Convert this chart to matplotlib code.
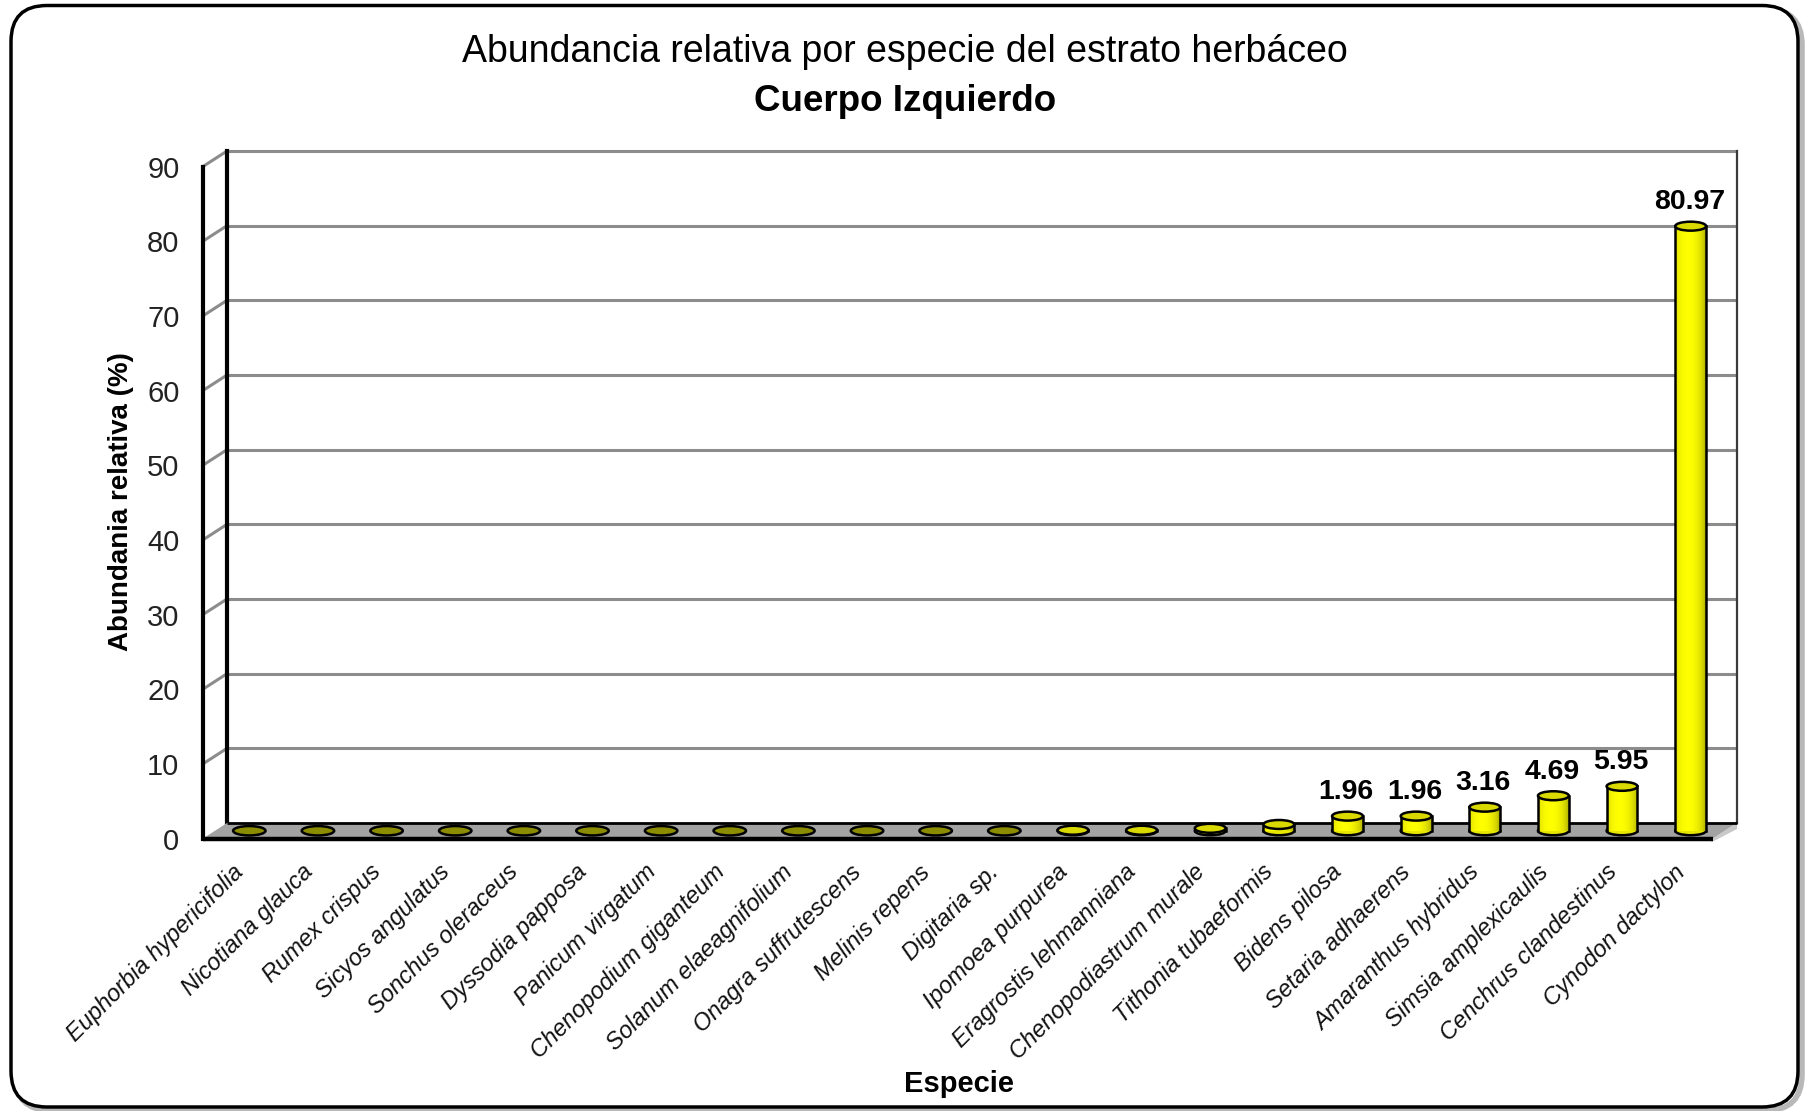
import matplotlib
matplotlib.use("Agg")
import matplotlib.pyplot as plt
import numpy as np
from matplotlib.patches import Rectangle, Ellipse, Polygon, FancyBboxPatch
from matplotlib.lines import Line2D
from matplotlib.transforms import ScaledTranslation, IdentityTransform

# ---- data -------------------------------------------------------------
species = [
    "Euphorbia hypericifolia", "Nicotiana glauca", "Rumex crispus",
    "Sicyos angulatus", "Sonchus oleraceus", "Dyssodia papposa",
    "Panicum virgatum", "Chenopodium giganteum", "Solanum elaeagnifolium",
    "Onagra suffrutescens", "Melinis repens", "Digitaria sp.",
    "Ipomoea purpurea", "Eragrostis lehmanniana", "Chenopodiastrum murale",
    "Tithonia tubaeformis", "Bidens pilosa", "Setaria adhaerens",
    "Amaranthus hybridus", "Simsia amplexicaulis", "Cenchrus clandestinus",
    "Cynodon dactylon",
]
abundance = [0, 0, 0, 0, 0, 0, 0, 0, 0, 0, 0, 0,
             0.07, 0.07, 0.33, 0.84, 1.96, 1.96, 3.16, 4.69, 5.95, 80.97]
show_value = [False] * 16 + [True] * 6
y_ticks = list(range(0, 91, 10))

title = "Abundancia relativa por especie del estrato herbáceo"
subtitle = "Cuerpo Izquierdo"
y_label = "Abundania relativa (%)"
x_label = "Especie"

NARROW = ["Liberation Sans Narrow", "Arial Narrow", "Liberation Sans", "DejaVu Sans"]

# ---- figure -------------------------------------------------------------
DPI = 100
W, H = 1807, 1111
fig = plt.figure(figsize=(W / DPI, H / DPI), dpi=DPI)
fig.patch.set_facecolor("white")

# rounded chart-area frame with a soft shadow
shadow = FancyBboxPatch((15, 0.5), 1787, 1101.5,
                        boxstyle="round,pad=0,rounding_size=36",
                        transform=IdentityTransform(), fc="none",
                        ec="#8a8a8a", lw=4, alpha=0.6, zorder=0)
frame = FancyBboxPatch((11, 4), 1787, 1101.5,
                       boxstyle="round,pad=0,rounding_size=36",
                       transform=IdentityTransform(), fc="white",
                       ec="black", lw=2.5, zorder=0.5)
fig.add_artist(shadow)
fig.add_artist(frame)

# the axes rectangle is the front face of the 3-D box
ax = fig.add_axes([203 / W, 272.5 / H, 1510 / W, 672 / H])
ax.set_zorder(1)
ax.patch.set_visible(False)
n = len(species)
ax.set_xlim(-0.5, n - 0.5)
ax.set_ylim(0, 90)

# depth of the box (back wall) and the mid-depth plane where the cylinders stand
depth = ScaledTranslation(24 / DPI, 15.5 / DPI, fig.dpi_scale_trans)
half_depth = ScaledTranslation(12 / DPI, 7.75 / DPI, fig.dpi_scale_trans)
back = ax.transData + depth
mid = ax.transData + half_depth

x0, x1 = -0.5, n - 0.5

# back wall with gridlines
ax.add_patch(Rectangle((x0, 0), x1 - x0, 90, transform=back, fc="white",
                       ec="none", zorder=1, clip_on=False))
for yv in y_ticks[1:]:
    ax.plot([x0, x1], [yv, yv], transform=back, color="#8c8c8c", lw=2.2,
            zorder=2, clip_on=False, solid_capstyle="butt")
ax.plot([x1, x1], [0, 90], transform=back, color="#3a3a3a", lw=1.6,
        zorder=2, clip_on=False)
ax.plot([x0, x0], [0, 90], transform=back, color="black", lw=3,
        zorder=3, clip_on=False)

# side wall gridlines and floor, built from the front/back projections
def front_pt(x, y):
    return ax.transData.transform((x, y))

def back_pt(x, y):
    return back.transform((x, y))

for yv in y_ticks[1:]:
    p, q = front_pt(x0, yv), back_pt(x0, yv)
    ax.add_line(Line2D([p[0], q[0]], [p[1], q[1]], transform=IdentityTransform(),
                       color="#8c8c8c", lw=2.2, zorder=2, clip_on=False))

floor = np.array([front_pt(x0, 0), front_pt(x1, 0), back_pt(x1, 0), back_pt(x0, 0)])
ax.add_patch(Polygon(floor, closed=True, transform=IdentityTransform(),
                     fc="#a3a3a3", ec="none", zorder=3, clip_on=False))
# soft shadow on the right end of the floor
tip = np.array([front_pt(x1, 0), back_pt(x1, 0)])
ax.add_patch(Polygon(np.array([tip[0], tip[1], tip[1] + [0, -6], tip[0] + [-2, -4]]),
                     closed=True, transform=IdentityTransform(), fc="#c8c8c8",
                     ec="none", zorder=3, clip_on=False))
ax.plot([x0, x1], [0, 0], transform=back, color="black", lw=2, zorder=3.5,
        clip_on=False, solid_capstyle="butt")
ax.plot([x0, x1], [0, 0], color="black", lw=3.2, zorder=9, clip_on=False,
        solid_capstyle="butt")

# ---- cylinders ----------------------------------------------------------
bar_w = 0.45
ell_h = 1.2
tt = np.linspace(0, 1, 64)
shade = 0.62 + 0.38 * np.clip(np.sin(np.pi * (0.15 + 0.85 * tt)) ** 0.5, 0, 1)
grad = np.zeros((1, tt.size, 3))
grad[0, :, 0] = shade
grad[0, :, 1] = shade
grad[0, :, 2] = 0.0

for i, v in enumerate(abundance):
    if v <= 0:
        ax.add_patch(Ellipse((i, 0), bar_w * 1.05, ell_h * 1.05, transform=mid,
                             fc="#8c8c00", ec="black", lw=1.8, zorder=5,
                             clip_on=False))
        continue
    ax.add_patch(Ellipse((i, 0), bar_w, ell_h, transform=mid, fc="#e6e600",
                         ec="black", lw=1.8, zorder=5, clip_on=False))
    ax.imshow(grad, extent=[i - bar_w / 2, i + bar_w / 2, 0, v], transform=mid,
              aspect="auto", interpolation="bilinear", zorder=6, clip_on=False)
    for side in (-1, 1):
        ax.plot([i + side * bar_w / 2] * 2, [0, v], transform=mid, color="black",
                lw=1.8, zorder=7, clip_on=False)
    ax.add_patch(Ellipse((i, v), bar_w, ell_h, transform=mid, fc="#d9d900",
                         ec="black", lw=1.8, zorder=8, clip_on=False))

for i, (v, s) in enumerate(zip(abundance, show_value)):
    if s:
        ax.annotate(f"{v:.2f}", xy=(i, v), xycoords=mid, xytext=(-1, 8),
                    textcoords="offset points", ha="center", va="bottom",
                    fontsize=20.5, fontweight="bold", family=NARROW, zorder=10)

ax.set_xlim(x0, x1)
ax.set_ylim(0, 90)

# ---- axes decoration ----------------------------------------------------
for side in ("top", "right", "bottom"):
    ax.spines[side].set_visible(False)
ax.spines["left"].set_linewidth(3.0)
ax.spines["left"].set_color("black")
ax.spines["left"].set_zorder(9)

ax.set_yticks(y_ticks)
ax.set_yticklabels([str(t) for t in y_ticks], family=NARROW, fontsize=21,
                   color="#222222")
ax.tick_params(axis="y", length=0, pad=17)
ax.set_xticks([])

label_shift = ScaledTranslation(-5 / DPI, -22 / DPI, fig.dpi_scale_trans)
for i, name in enumerate(species):
    ax.text(i, 0, name, transform=ax.transData + label_shift, rotation=45,
            rotation_mode="anchor", ha="right", va="top", fontsize=17,
            style="italic", family=NARROW, color="#111111")

ax.set_ylabel(y_label, fontsize=20, fontweight="bold", family=NARROW)
ax.yaxis.label.set_va("center")
ax.yaxis.set_label_coords(-0.0543, 0.502)
ax.set_xlabel(x_label, fontsize=21, fontweight="bold", family=NARROW)
ax.xaxis.label.set_va("center")
ax.xaxis.set_label_coords(0.5007, -0.366)

fig.text(0.5008, 0.953, title, ha="center", va="center", fontsize=27,
         family=NARROW)
fig.text(0.5008, 0.909, subtitle, ha="center", va="center", fontsize=26.5,
         fontweight="bold", family=NARROW)

fig.savefig("out.png", dpi=DPI, facecolor="white")
